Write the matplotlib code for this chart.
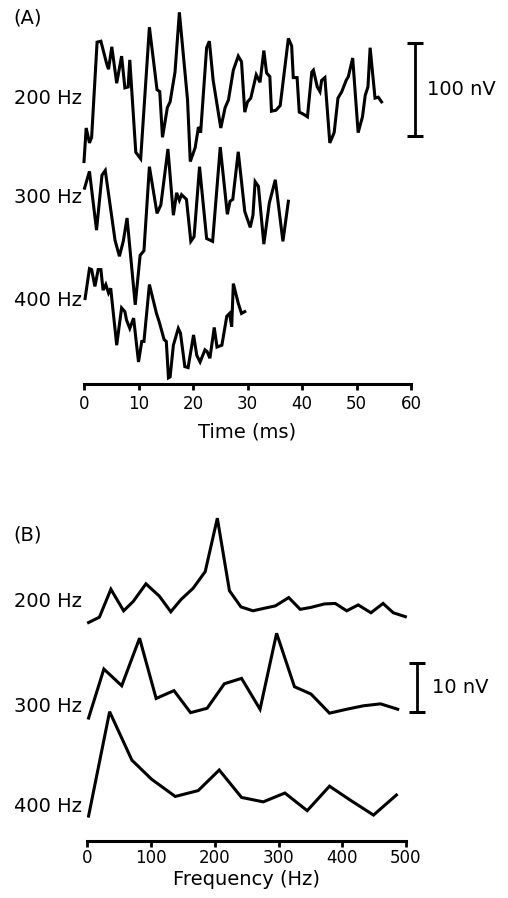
import matplotlib
matplotlib.use("Agg")
import matplotlib.pyplot as plt

# ---------------- Data ----------------
row_labels = ["200 Hz", "300 Hz", "400 Hz"]

# Panel A: time-domain responses (ms, nV relative to each trace's baseline)
a200_t = [0, 0.4, 1.0, 1.4, 2.4, 3.1, 4.2, 4.5, 5.1, 6.0, 6.9, 7.5, 8.1, 8.4, 9.5, 10.4, 12.0, 13.4, 13.9, 14.4,
          15.3, 15.8, 16.7, 17.5, 18.2, 19.0, 19.5, 20.4, 21.0, 21.4, 22.5, 23.0, 23.7, 25.1, 25.9, 26.5, 27.4,
          28.3, 28.9, 29.5, 30.0, 30.6, 31.6, 32.3, 33.0, 33.5, 34.1, 34.4, 35.2, 36.0, 37.5, 38.1, 38.4, 39.1,
          39.5, 40.2, 41.0, 41.8, 42.1, 42.8, 43.3, 43.6, 44.2, 45.1, 45.9, 46.6, 47.3, 48.1, 48.5, 49.3, 50.3,
          51.1, 51.6, 52.1, 52.5, 53.4, 54.0, 54.6]
a200_v = [-66, -30, -46, -40, 62, 63, 38, 33, 57, 18, 47, 13, 14, 43, -56, -63, 78, 11, 9, -40,
          -8, -2, 30, 94, 50, 0, -66, -51, -29, -35, 56, 63, 21, -30, -8, 0, 32,
          47, 41, -13, -2, 2, 27, 19, 53, 29, 25, -12, -11, -6, 66, 58, 24, 24,
          -13, -15, -18, 30, 32, 14, 9, 21, 24, -46, -35, 2, 9, 21, 25, 45, -35,
          -18, 5, 14, 56, 2, 3, -2]

a300_t = [0.1, 1.0, 2.3, 3.3, 3.9, 5.7, 6.5, 7.2, 7.9, 9.4, 10.3, 11.0, 12.0, 13.4, 14.1, 15.4, 16.4, 17.0,
          17.5, 17.9, 18.8, 19.6, 20.2, 21.2, 22.5, 23.6, 25.0, 26.3, 26.8, 27.3, 28.3, 29.5, 30.5, 31.0,
          31.4, 32.0, 33.0, 34.0, 35.1, 36.5, 37.5]
a300_v = [18, 36, -27, 32, 37, -38, -55, -39, -14, -107, -54, -49, 41, -9, 0, 60, -11, 13,
          5, 11, 6, -39, -34, 41, -36, -39, 62, -10, 4, 6, 57, -7, -24, -11,
          25, 20, -42, 2, 27, -39, 4]

a400_t = [0.2, 1.0, 1.4, 2.0, 2.6, 3.1, 3.5, 4.0, 4.5, 4.9, 6.0, 6.9, 7.5, 7.8, 8.4, 9.1, 10.0, 10.6, 11.0,
          12.0, 13.3, 13.8, 14.7, 15.1, 15.5, 15.8, 16.4, 17.3, 17.7, 18.5, 19.1, 20.1, 20.7, 21.3, 22.2,
          22.6, 23.1, 23.9, 24.4, 25.3, 26.2, 26.7, 27.1, 27.4, 28.3, 28.9, 29.5]
a400_v = [23, 55, 54, 36, 54, 54, 32, 38, 29, 34, -27, 13, 9, 0, -9, 2, -45, -23, -23,
          38, 7, -2, -21, -23, -62, -61, -27, -9, -14, -50, -51, -16, -38, -45, -32,
          -34, -41, -8, -29, -27, 4, 7, -7, 39, 18, 7, 9]

# Panel B: amplitude spectra (Hz, nV)
b200_f = [2, 19, 37, 57, 72, 92, 113, 131, 147, 166, 185, 204, 223, 241, 260, 277, 295, 316, 334, 351,
          372, 389, 407, 425, 445, 464, 480, 499]
b200_v = [0.5, 1.6, 7.3, 2.9, 4.8, 8.4, 5.9, 2.7, 5.2, 7.5, 10.9, 21.8, 7.0, 3.7, 2.9, 3.4, 3.9, 5.6, 3.2,
          3.6, 4.3, 4.4, 2.9, 4.1, 2.5, 4.4, 2.5, 1.7]

b300_f = [2, 26, 54, 82, 108, 136, 162, 188, 215, 242, 271, 297, 325, 351, 380, 407, 433, 460, 487]
b300_v = [0.8, 10.8, 7.4, 17.1, 4.8, 6.4, 1.9, 2.8, 7.8, 8.9, 2.6, 18.1, 7.2, 5.7, 1.8, 2.6, 3.3, 3.7, 2.6]

b400_f = [2, 35, 70, 101, 138, 174, 207, 242, 276, 310, 345, 380, 412, 449, 485]
b400_v = [0.8, 22.1, 12.2, 8.3, 4.8, 6.0, 10.2, 4.6, 3.7, 5.5, 1.9, 6.9, 4.1, 1.0, 5.1]

time_ticks = [0, 10, 20, 30, 40, 50, 60]
freq_ticks = [0, 100, 200, 300, 400, 500]
scale_a_nv = 100
scale_b_nv = 10

# ---------------- Layout ----------------
W, H = 508, 898
LW = 2.2
FS = 14
TFS = 12
plt.rcParams['font.family'] = ['DejaVu Sans']

fig = plt.figure(figsize=(W / 100, H / 100), dpi=100)

def axes_px(x0, x1, y_top, y_bot):
    return fig.add_axes([x0 / W, 1 - y_bot / H, (x1 - x0) / W, (y_bot - y_top) / H])

def style(ax, pad):
    for s in ["left", "top", "right"]:
        ax.spines[s].set_visible(False)
    ax.spines["bottom"].set_linewidth(2.2)
    ax.set_yticks([])
    ax.tick_params(axis="x", direction="out", length=4, width=2.0, labelsize=TFS, pad=pad)
    ax.patch.set_alpha(0)

# Panel A
axA = axes_px(84, 411, 0, 384)
style(axA, 4)
axA.set_xlim(0, 60)
axA.set_ylim(0, 384 / 0.933)
offsA = [304.4, 191.9, 68.6]
labYA = [306.5, 200.4, 90.0]
for (t, v), off, lab, ly in zip([(a200_t, a200_v), (a300_t, a300_v), (a400_t, a400_v)], offsA, row_labels, labYA):
    axA.plot(t, [off + x for x in v], color="black", lw=LW, solid_joinstyle="miter", clip_on=False)
    axA.text(-0.4, ly, lab, ha="right", va="center", fontsize=FS)
axA.set_xticks(time_ticks)
axA.set_xlabel("Time (ms)", fontsize=FS, labelpad=7)
# scale bar A
sx, sy0 = 60.7, 265.8
axA.plot([sx, sx], [sy0, sy0 + scale_a_nv], color="black", lw=2.0, clip_on=False)
for yy in (sy0, sy0 + scale_a_nv):
    axA.plot([sx - 1.5, sx + 1.5], [yy, yy], color="black", lw=2.2, clip_on=False, solid_capstyle="butt")
axA.text(62.9, sy0 + scale_a_nv / 2, f"{scale_a_nv} nV", ha="left", va="center", fontsize=FS)

# Panel B
axB = axes_px(87.3, 406, 500, 841)
style(axB, 2)
axB.set_xlim(0, 500)
axB.set_ylim(0, 341 / 4.9)
offsB = [44.08, 24.29, 4.29]
labYB = [48.8, 27.5, 7.1]
for (f, v), off, lab, ly in zip([(b200_f, b200_v), (b300_f, b300_v), (b400_f, b400_v)], offsB, row_labels, labYB):
    axB.plot(f, [off + x for x in v], color="black", lw=LW, solid_joinstyle="miter", clip_on=False)
    axB.text(-8, ly, lab, ha="right", va="center", fontsize=FS)
axB.set_xticks(freq_ticks)
axB.set_xlabel("Frequency (Hz)", fontsize=FS, labelpad=2)
# scale bar B
bx, by0 = 517.6, 26.3
axB.plot([bx, bx], [by0, by0 + scale_b_nv], color="black", lw=2.0, clip_on=False)
for yy in (by0, by0 + scale_b_nv):
    axB.plot([bx - 12.5, bx + 12.5], [yy, yy], color="black", lw=2.2, clip_on=False, solid_capstyle="butt")
axB.text(541, by0 + scale_b_nv / 2, f"{scale_b_nv} nV", ha="left", va="center", fontsize=FS)

fig.text(13 / W, 1 - 18 / H, "(A)", ha="left", va="center", fontsize=FS)
fig.text(13 / W, 1 - 535 / H, "(B)", ha="left", va="center", fontsize=FS)

fig.savefig("out.png", dpi=100)
